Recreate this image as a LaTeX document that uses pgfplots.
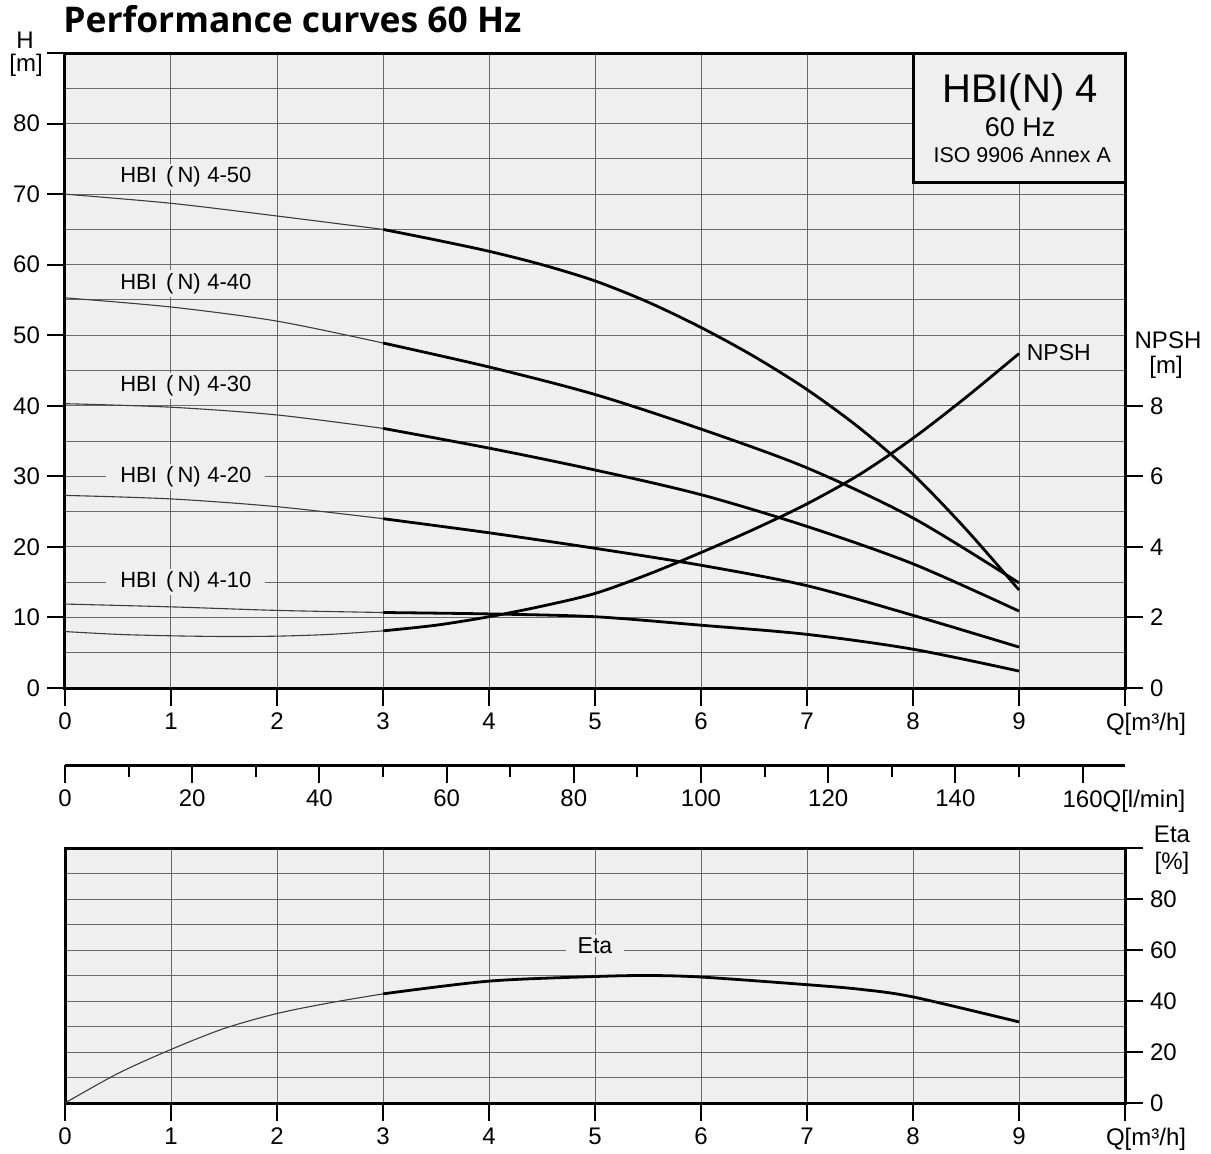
\documentclass[border=0pt]{standalone}
\usepackage{fontspec}
\setmainfont{Liberation Sans}
\newfontfamily\titlefont{Open Sans}
\usepackage{pgfplots}
\pgfplotsset{compat=1.18}
\definecolor{bgc}{RGB}{239,239,239}
\definecolor{gridc}{RGB}{105,105,105}
\definecolor{thincol}{RGB}{60,60,60}
\pgfplotsset{
  base/.style={scale only axis, width=530pt, xmin=0, xmax=10,
    tick align=outside, major tick length=9pt, minor tick length=0pt,
    tick style={black, line width=1pt},
    axis line style={line width=1.5pt},
    ticklabel style={font=\fontsize{12}{14}\selectfont},
    /pgf/number format/assume math mode=true},
}
\tikzset{
  thinline/.style={draw=thincol, line width=0.55pt, smooth},
  thickline/.style={draw=black, line width=1.4pt, smooth},
  hbilab/.style={font=\fontsize{11}{13}\selectfont, fill=bgc, inner xsep=7pt, inner ysep=1.5pt},
}
\newcommand{\hbi}[1]{HBI\hspace{0.42em}(\hspace{0.18em}N)\hspace{0.3em}4-#1}
\begin{document}
\begin{tikzpicture}
% ---------- top axis: H ----------
\begin{axis}[base, at={(0,0)}, anchor=south west, height=317.5pt,
  ymin=0, ymax=90,
  axis background/.style={fill=bgc},
  xtick={0,...,10},
  xticklabels={0,1,2,3,4,5,6,7,8,9,{\makebox[0pt][l]{\hspace*{-9.5pt}Q[m³/h]}}},
  ytick={0,10,...,90}, yticklabels={0,10,20,30,40,50,60,70,80,{}},
  minor ytick={5,15,...,85},
  xtick pos=left, ytick pos=left,
  grid=both,
  major grid style={gridc, line width=0.5pt},
  minor grid style={gridc, line width=0.5pt}]
% HBI(N) 4-50
\addplot[thinline] coordinates {(0,70) (1,68.7) (2,66.9) (3,65)};
\addplot[thickline] coordinates {(3,65) (3.5,63.5) (4,61.9) (4.5,60.0) (5,57.7) (5.5,54.7) (6,51.1) (6.5,47.0) (7,42.3) (7.5,36.8) (8,30.3) (8.5,22.5) (9,13.9)};
% HBI(N) 4-40
\addplot[thinline] coordinates {(0,55.3) (1,54) (2,52) (3,48.9)};
\addplot[thickline] coordinates {(3,48.9) (4,45.5) (5,41.6) (6,36.7) (7,31.2) (8,24.1) (9,14.9)};
% HBI(N) 4-30
\addplot[thinline] coordinates {(0,40.3) (1,39.8) (2,38.7) (3,36.8)};
\addplot[thickline] coordinates {(3,36.8) (4,34) (5,30.9) (6,27.4) (7,22.9) (8,17.6) (9,10.9)};
% HBI(N) 4-20
\addplot[thinline] coordinates {(0,27.3) (1,26.8) (2,25.7) (3,24)};
\addplot[thickline] coordinates {(3,24) (4,22) (5,19.8) (6,17.4) (7,14.5) (8,10.3) (9,5.8)};
% HBI(N) 4-10
\addplot[thinline] coordinates {(0,11.9) (1,11.5) (2,11) (3,10.7)};
\addplot[thickline] coordinates {(3,10.7) (4,10.5) (5,10.1) (6,8.9) (7,7.6) (8,5.5) (9,2.4)};
% labels
\node[hbilab] at (axis cs:1.14,72.4) {\hbi{50}};
\node[hbilab] at (axis cs:1.14,57.3) {\hbi{40}};
\node[hbilab] at (axis cs:1.14,42.8) {\hbi{30}};
\node[hbilab] at (axis cs:1.14,29.9) {\hbi{20}};
\node[hbilab] at (axis cs:1.14,15.06) {\hbi{10}};
\node[anchor=west, font=\fontsize{11.5}{13}\selectfont, inner sep=0pt] at (axis cs:9.07,47.6) {NPSH};
% legend box
\draw[line width=1.5pt, fill=bgc] (axis cs:8,71.6) rectangle (axis cs:10,90);
\node[font=\fontsize{20}{24}\selectfont] at (axis cs:9.01,84.5) {HBI(N) 4};
\node[font=\fontsize{13.5}{16}\selectfont] at (axis cs:9.01,79.5) {60 Hz};
\node[font=\fontsize{10.7}{13}\selectfont] at (axis cs:9.03,75.5) {ISO 9906 Annex A};
\end{axis}
% ---------- NPSH axis ----------
\begin{axis}[base, at={(0,0)}, anchor=south west, height=317.5pt,
  ymin=0, ymax=18, axis x line=none, axis y line*=right,
  ytick={0,2,...,8}, yticklabels={0,2,4,6,8}]
\addplot[thinline] coordinates {(0,1.6) (0.5,1.52) (1,1.48) (1.5,1.46) (2,1.47) (2.5,1.52) (3,1.62)};
\addplot[thickline] coordinates {(3,1.62) (3.5,1.78) (4,2.02) (4.5,2.32) (5,2.68) (5.5,3.22) (6,3.84) (6.5,4.5) (7,5.22) (7.5,6.06) (8,7.08) (8.5,8.24) (9,9.48)};
\end{axis}
% ---------- l/min axis ----------
\begin{axis}[base, at={(0,-38.5pt)}, anchor=south west, height=10pt,
  xmin=0, xmax=166.6667, ymin=0, ymax=1,
  axis x line*=bottom, axis y line=none,
  xtick={0,20,...,160},
  xticklabels={0,20,40,60,80,100,120,140,{160\rlap{Q[l/min]}}},
  minor xtick={10,30,...,150}, minor tick length=6pt]
\addplot[draw=none] coordinates {(0,0) (160,0)};
\end{axis}
% ---------- Eta axis ----------
\begin{axis}[base, at={(0,-207.5pt)}, anchor=south west, height=127.5pt,
  ymin=0, ymax=100,
  axis background/.style={fill=bgc},
  xtick={0,...,10},
  xticklabels={0,1,2,3,4,5,6,7,8,9,{\makebox[0pt][l]{\hspace*{-9.5pt}Q[m³/h]}}},
  ytick={0,20,...,100}, yticklabels={0,20,40,60,80,{}},
  minor ytick={10,30,...,90},
  xtick pos=left, ytick pos=right, yticklabel pos=right,
  grid=both,
  major grid style={gridc, line width=0.5pt},
  minor grid style={gridc, line width=0.5pt}]
\addplot[thinline] coordinates {(0,0) (0.5,11.6) (1,21) (1.5,29.2) (2,35.1) (2.5,39.3) (3,42.8)};
\addplot[thickline] coordinates {(3,42.8) (4,47.8) (5,49.6) (5.5,50) (6,49.4) (7,46.4) (7.5,44.6) (8,41.6) (9,31.8)};
\node[font=\fontsize{11.5}{13}\selectfont, fill=bgc, inner xsep=6pt, inner ysep=1.5pt] at (axis cs:5,61.5) {Eta};
\end{axis}
% ---------- outside texts ----------
\node[anchor=base west, font=\titlefont\bfseries\fontsize{17.7}{21}\selectfont, inner sep=0pt] at (-1pt,327.5pt) {Performance curves 60 Hz};
\node[font=\fontsize{12}{14}\selectfont, inner sep=0pt] at (-20pt,324pt) {H};
\node[font=\fontsize{12}{14}\selectfont, inner sep=0pt] at (-19.5pt,311.5pt) {[m]};
\node[font=\fontsize{12}{14}\selectfont, inner sep=0pt] at (551.5pt,174pt) {NPSH};
\node[font=\fontsize{12}{14}\selectfont, inner sep=0pt] at (550.5pt,160.5pt) {[m]};
\node[font=\fontsize{12}{14}\selectfont, inner sep=0pt] at (553.5pt,-73pt) {Eta};
\node[font=\fontsize{12}{14}\selectfont, inner sep=0pt] at (553.5pt,-87.5pt) {[\%]};
\pgfresetboundingbox
\useasboundingbox (-32.5pt,-232.5pt) rectangle (573pt,344pt);
\end{tikzpicture}
\end{document}
